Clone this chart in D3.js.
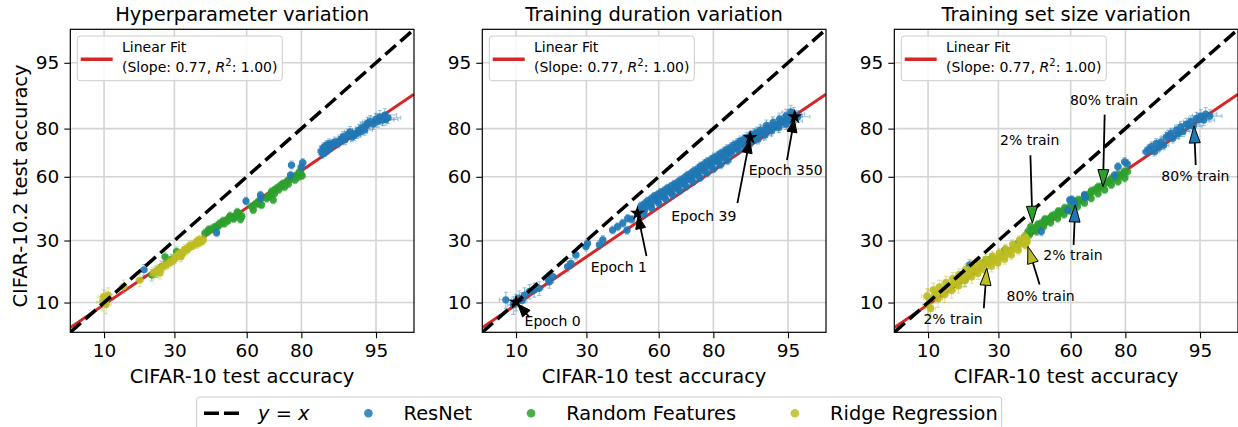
<!DOCTYPE html>
<html lang="en">
<head>
<meta charset="UTF-8">
<title>CIFAR-10 vs CIFAR-10.2 test accuracy</title>
<script src="https://d3js.org/d3.v7.min.js"></script>
<style>
  body { margin: 0; background: #fff; }
  text { font-family: "DejaVu Sans", sans-serif; fill: #000; }
</style>
</head>
<body>
<svg id="fig" width="1238" height="427"></svg>
<script>
// ---------- data (all accuracies in %) ----------
const tickLabels = [10, 30, 60, 80, 95];
const axisLimits = [5, 98];
const panelTitles = ["Hyperparameter variation", "Training duration variation", "Training set size variation"];

// linear fit in probit space
const fitSlope = 0.77, fitIntercept = -0.32, fitR2 = 1.00;
// half widths of the confidence intervals (percentage points)
const xErr = 1.0, yErr = 1.8;

// panel 1: hyperparameter variation
const hpResNet = [
  [19.7,18.9],[47.2,33.4],[59.7,48.3],[65.6,51.2],[65.8,49.5],[76.6,60.8],[76.9,65.4],[80.0,64.5],[80.4,66.5],
  [85.5,71.5],[86.0,73.0],[86.7,73.9],[87.0,71.9],[87.6,73.0],[88.5,75.2],[89.2,74.6],[89.8,76.2],[90.5,75.9],
  [91.0,78.0],[91.4,78.9],[92.0,77.5],[92.4,78.3],[92.8,79.5],[93.3,80.3],[93.8,81.0],[94.3,82.3],[94.7,81.5],
  [95.0,83.0],[95.4,83.8],[95.7,82.8],[95.9,84.3],[96.2,83.5],
  [86.3,71.0],[88.0,74.2],[89.5,75.5],[90.2,77.2],[91.7,77.0],[93.0,78.8],[93.6,79.5],[94.0,81.8],[95.2,82.3],
  [96.0,83.0],[85.8,70.3],[87.3,74.5]
];
const hpRandomFeatures = [
  [22.1,17.2],[23.7,18.3],[25.4,20.0],[26.6,23.5],[27.2,21.4],[29.0,22.6],[30.8,25.5],[42.2,33.2],[43.4,33.9],
  [45.0,35.0],[47.2,36.4],[48.5,37.5],[49.4,38.0],[50.5,37.6],[51.5,39.2],[52.5,40.2],[53.6,40.5],[54.5,39.8],
  [55.8,41.6],[56.5,42.5],[57.4,39.5],[58.0,41.0],[62.0,45.6],[62.7,44.0],[64.7,48.0],[65.0,47.0],[66.0,46.4],
  [68.6,50.4],[69.2,51.0],[70.5,48.8],[69.9,52.9],[70.8,53.5],[71.7,54.5],[72.5,53.8],[73.5,56.1],[74.5,55.0],
  [75.3,57.7],[76.0,58.5],[76.9,59.3],[78.0,58.5],[78.5,60.8],[79.8,61.6],[80.2,60.5],
  [43.8,34.8],[46.2,35.8],[48.0,36.5],[50.0,38.8],[52.0,38.8],[53.0,41.2],[55.0,40.8],[56.0,43.0],[71.0,52.0],
  [72.8,55.4],[74.0,56.8],[75.8,56.6],[77.5,60.0],[79.2,60.0],[79.5,62.5],[68.0,49.5],[63.5,46.8]
];
const hpRidge = [
  [9.7,10.1],[9.9,11.3],[10.2,10.9],[10.8,11.7],[10.4,9.6],[14.2,13.9],[18.5,15.7],[22.6,17.8],[24.3,18.9],
  [24.8,17.8],[26.0,20.0],[27.8,21.1],[29.6,22.3],[30.8,23.6],[31.5,24.2],[32.5,23.5],[33.4,25.5],[34.0,26.5],
  [35.4,26.8],[36.0,28.0],[37.4,28.2],[39.5,28.8],[40.0,30.5],[41.6,30.3],
  [23.5,18.4],[25.2,19.4],[27.0,20.6],[28.7,21.7],[30.2,22.9],[32.0,24.8],[33.0,24.5],[34.7,26.0],[36.7,27.5],
  [38.5,28.5],[40.8,29.5],[38.8,29.8]
];

// panel 2: training duration variation
const tdResNet = [
  [8.2,10.6],[9.5,9.5],[10.0,10.1],[10.6,10.9],[11.2,10.5],[11.7,11.7],[12.8,12.6],[13.9,13.0],[15.1,13.4],
  [17.5,16.0],[17.8,15.2],[18.8,16.7],[23.4,20.0],[24.5,21.1],[26.2,24.2],[29.8,27.5],[30.4,28.8],[35.0,28.2],
  [36.4,30.3],[40.4,34.6],[42.5,36.1],[44.7,37.7],[46.5,34.5],[46.8,40.0],[48.5,39.5],[51.0,42.4],
  [53.2,44.8],[52.5,46.0],[54.0,43.8],[56.0,47.2],[55.3,48.4],[56.8,46.1],[58.9,49.6],[58.2,50.8],[59.6,48.5],
  [61.6,51.3],[60.9,52.6],[62.3,50.2],[64.3,53.4],[63.6,54.6],[65.0,52.3],[67.0,55.3],[66.3,56.5],[67.7,54.2],
  [69.5,57.4],[68.8,58.6],[70.2,56.3],[72.0,59.6],[71.3,60.8],[72.7,58.5],[74.3,61.6],[73.6,62.8],[75.0,60.5],
  [76.6,63.8],[75.9,65.0],[77.2,62.7],[78.7,65.9],[78.1,67.0],[79.3,64.8],[80.8,67.7],[80.2,68.8],[81.4,66.7],
  [82.7,69.4],[82.1,70.5],[83.3,68.4],[84.4,71.2],[83.9,72.3],[84.9,70.2],[86.1,73.0],[85.6,74.0],[86.6,72.0],
  [87.6,74.6],[87.1,75.6],[88.0,73.6],[89.0,75.9],[88.6,76.9],[89.4,75.0],[90.3,77.1],[89.9,78.1],[90.7,76.2],
  [91.5,78.6],[91.1,79.5],[91.9,77.7],[92.5,80.1],[92.1,81.0],[92.9,79.2],[93.5,81.2],[93.1,82.0],[93.9,80.4],
  [94.4,82.3],[94.0,83.1],[94.8,81.5],[95.1,83.3],[94.8,84.1],[95.4,82.5],[95.6,84.6],[95.3,85.2],[96.0,83.8],
  [54.6,46.0],[57.5,48.4],[60.3,50.5],[63.0,52.4],[65.7,54.4],[68.3,56.4],[70.8,58.5],[73.2,60.6],[75.5,62.7],
  [77.7,64.9],[79.8,66.8],[81.8,68.6],[83.6,70.3],[85.3,72.1],[86.9,73.8],[88.3,75.3],[89.7,76.5],[90.9,77.9],
  [92.0,79.4],[93.0,80.7],[94.0,81.8],[94.8,82.8],[95.4,84.0],
  [54.0,47.1],[56.9,49.5],[59.7,51.6],[62.4,53.5],[65.1,55.5],[67.7,57.5],[70.2,59.6],[72.6,61.6],[74.9,63.7],
  [77.1,65.9],[79.3,67.8],[81.3,69.6],[83.1,71.3],[84.9,73.0],[86.5,74.6],[87.9,76.1],[89.3,77.3],[90.5,78.7],
  [53.8,41.9],[57.0,44.9],[60.0,47.2],[62.9,49.3],[65.7,51.3],[68.4,53.3],[70.9,55.4],[73.4,57.5],[75.8,59.6],
  [78.0,61.8],[80.1,63.7],[82.1,65.6],[84.0,67.4]
];
const epochLabels = ["Epoch 0", "Epoch 1", "Epoch 39", "Epoch 350"];
const epochX = [10.0, 51.0, 89.2, 95.7];
const epochY = [10.1, 42.4, 76.8, 83.8];

// panel 3: training set size variation
const tsResNet = [
  [20.2,20.6],[47.5,33.9],[58.8,44.0],[59.6,48.8],[60.5,49.0],[61.6,47.2],[65.6,51.3],[65.9,50.0],[76.6,60.8],
  [77.7,64.7],[79.8,66.9],[80.5,66.0],
  [85.7,71.2],[86.9,73.3],[87.6,71.2],[88.0,74.6],[89.0,75.2],[89.5,73.8],[90.0,76.9],[90.9,78.3],[91.2,76.5],
  [91.8,79.5],[92.5,80.6],[92.8,79.0],[93.3,81.5],[93.9,82.3],[94.2,80.8],[94.6,83.3],[95.1,84.0],[95.4,82.8],
  [95.6,84.6],[86.3,72.2],[88.6,73.0],[90.4,77.6],[92.1,78.2],[93.6,81.0],[94.9,83.0],[96.0,84.0]
];
const tsRandomFeatures = [
  [18.8,15.7],[25.1,21.7],[27.4,22.9],[32.4,26.1],[37.7,28.8],[40.4,31.7],
  [41.8,33.9],[44.7,35.4],[47.5,37.7],[50.4,39.5],[53.2,41.6],[56.0,43.2],[58.9,44.8],[61.6,46.9],[64.3,48.8],
  [67.0,51.3],[69.5,53.7],[72.0,55.3],[74.3,57.7],[76.6,59.3],[78.7,60.8],[80.6,62.4],
  [43.0,36.2],[46.0,37.2],[49.0,39.6],[52.0,41.2],[54.8,43.4],[57.5,45.0],[60.2,46.8],[63.0,48.9],[65.7,50.9],
  [68.3,53.3],[70.8,55.2],[73.2,57.2],[75.5,59.2],[77.7,61.0],[79.7,62.6],
  [42.5,32.6],[45.5,34.0],[48.5,36.2],[51.5,38.0],[54.5,40.0],[57.2,41.8],[60.0,43.5],[62.8,45.6],[65.6,47.4],
  [68.2,49.6],[70.8,52.0],[73.2,53.8],[75.5,56.2],[77.7,57.8],[79.8,59.4],
  [43.2,34.6],[46.1,36.5],[48.9,38.6],[51.8,40.5],[54.6,42.4],[57.4,44.0],[60.2,45.8],[62.9,47.8],[65.6,50.0],
  [68.2,52.5],[70.7,54.5],[73.1,56.5],[75.4,58.5],[77.6,60.0],[79.6,61.6]
];
const tsRidge = [
  [10.0,9.5],[10.2,10.9],[11.3,11.7],[12.8,12.6],[14.3,13.9],[16.0,14.8],[17.8,16.2],[19.7,17.8],[21.8,18.9],
  [23.9,20.0],[26.2,21.1],[28.6,22.3],[31.1,23.5],[33.7,25.1],[36.4,26.8],[39.1,28.8],[41.1,31.0],
  [9.8,11.5],[11.0,13.0],[12.3,13.8],[13.8,15.0],[15.5,16.2],[17.2,17.4],[19.0,19.0],[21.0,20.2],[23.2,21.4],
  [25.5,22.5],[27.8,23.8],[30.3,25.0],[32.8,26.6],[35.5,28.4],[38.3,30.3],[40.6,31.6],
  [10.5,8.8],[12.0,10.8],[13.5,11.8],[15.2,12.8],[17.0,14.0],[18.8,15.5],[20.8,16.6],[22.8,17.7],[25.0,18.8],
  [27.4,20.0],[29.8,21.2],[32.4,22.6],[35.0,24.2],[37.8,26.0],[40.8,28.0],[41.5,29.5],
  [12.0,12.2],[13.5,13.2],[15.1,14.3],[16.9,15.5],[18.7,17.0],[20.7,18.3],[22.8,19.4],[25.0,20.5],[27.4,21.7],
  [29.8,22.9],[32.4,24.3],[35.0,25.9],[37.7,27.8],[40.1,29.9]
];
const sizeLabels = ["2% train", "80% train", "80% train", "2% train", "80% train", "2% train"];
const sizeModel  = ["rf", "rf", "resnet", "resnet", "ridge", "ridge"];
const sizeX = [43.7, 72.6, 94.3, 61.9, 41.8, 25.8];
const sizeY = [37.7, 55.3, 80.9, 46.4, 27.5, 19.4];

const legendLabels = ["y = x", "ResNet", "Random Features", "Ridge Regression"];

// ---------- layout / style ----------
const colors = { resnet: "#1f77b4", rf: "#2ca02c", ridge: "#bcbd22", fit: "#d62728" };
const panelLeft = [70.3, 482.3, 894.3];
const axTop = 29.3, W = 343.7, H = 303;
// text placement for annotations, px relative to the annotated point: [text dx, dy, tail dx, dy]
const epochOffsets = [[36.6, 18.7, 13.3, 15], [-18.6, 53.4, 9, 42.7], [-46.3, 78.3, -12.7, 65.6], [-9, 53.3, -7.7, 43.3]];
const sizeOffsets = [[-2.7, -83.3, -2, -68], [1, -86.7, 1.7, -72], [1.4, 50.3, 1.7, 39],
                     [-2.4, 50, -1.7, 40], [12.7, 49.3, 11.7, 38], [-33.7, 51, -3, 40]];

function probit(p) {
  const a = [-3.969683028665376e+01, 2.209460984245205e+02, -2.759285104469687e+02, 1.383577518672690e+02, -3.066479806614716e+01, 2.506628277459239e+00];
  const b = [-5.447609879822406e+01, 1.615858368580409e+02, -1.556989798598866e+02, 6.680131188771972e+01, -1.328068155288572e+01];
  const c = [-7.784894002430293e-03, -3.223964580411365e-01, -2.400758277161838e+00, -2.549732539343734e+00, 4.374664141464968e+00, 2.938163982698783e+00];
  const d = [7.784695709041462e-03, 3.224671290700398e-01, 2.445134137142996e+00, 3.754408661907416e+00];
  const pl = 0.02425;
  let q, r;
  if (p < pl) {
    q = Math.sqrt(-2 * Math.log(p));
    return (((((c[0]*q+c[1])*q+c[2])*q+c[3])*q+c[4])*q+c[5]) / ((((d[0]*q+d[1])*q+d[2])*q+d[3])*q+1);
  }
  if (p > 1 - pl) {
    q = Math.sqrt(-2 * Math.log(1 - p));
    return -(((((c[0]*q+c[1])*q+c[2])*q+c[3])*q+c[4])*q+c[5]) / ((((d[0]*q+d[1])*q+d[2])*q+d[3])*q+1);
  }
  q = p - 0.5; r = q * q;
  return (((((a[0]*r+a[1])*r+a[2])*r+a[3])*r+a[4])*r+a[5])*q / (((((b[0]*r+b[1])*r+b[2])*r+b[3])*r+b[4])*r+1);
}
const pz = v => probit(v / 100);

const svg = d3.select("#fig");

function arrow(g, x0, y0, x1, y1, headLen, headW, fill) {
  const dx = x1 - x0, dy = y1 - y0, L = Math.hypot(dx, dy), ux = dx / L, uy = dy / L;
  const bx = x1 - ux * headLen, by = y1 - uy * headLen;
  if (L > headLen) {
    g.append("line").attr("x1", x0).attr("y1", y0).attr("x2", bx).attr("y2", by)
      .attr("stroke", "#000").attr("stroke-width", 1.8);
  }
  g.append("path")
    .attr("d", `M${x1},${y1}L${bx - uy * headW},${by + ux * headW}L${bx + uy * headW},${by - ux * headW}Z`)
    .attr("fill", fill).attr("stroke", "#000").attr("stroke-width", 1);
}

const panelSeries = [
  [["rf", hpRandomFeatures], ["resnet", hpResNet], ["ridge", hpRidge]],
  [["resnet", tdResNet]],
  [["rf", tsRandomFeatures], ["resnet", tsResNet], ["ridge", tsRidge]]
];

panelTitles.forEach((title, pi) => {
  const g = svg.append("g").attr("transform", `translate(${panelLeft[pi]},${axTop})`);
  const x = d3.scaleLinear().domain(axisLimits.map(pz)).range([0, W]);
  const y = d3.scaleLinear().domain(axisLimits.map(pz)).range([H, 0]);
  const px = v => x(pz(v)), py = v => y(pz(v));
  const tz = tickLabels.map(pz);

  // grid
  g.append("g").selectAll("line").data(tz).join("line")
    .attr("x1", d => x(d)).attr("x2", d => x(d)).attr("y1", 0).attr("y2", H)
    .attr("stroke", "#d4d4d4").attr("stroke-width", 1.6);
  g.append("g").selectAll("line").data(tz).join("line")
    .attr("y1", d => y(d)).attr("y2", d => y(d)).attr("x1", 0).attr("x2", W)
    .attr("stroke", "#d4d4d4").attr("stroke-width", 1.6);

  const plot = g.append("g");
  plot.append("clipPath").attr("id", "clip" + pi).append("rect").attr("width", W).attr("height", H);
  const inner = plot.append("g").attr("clip-path", `url(#clip${pi})`);

  // linear fit
  const zs = x.domain();
  inner.append("line")
    .attr("x1", x(zs[0])).attr("y1", y(fitSlope * zs[0] + fitIntercept))
    .attr("x2", x(zs[1])).attr("y2", y(fitSlope * zs[1] + fitIntercept))
    .attr("stroke", colors.fit).attr("stroke-width", 3);

  // points with error bars
  panelSeries[pi].forEach(([key, pts]) => {
    const s = inner.append("g");
    const c = colors[key];
    const eb = s.append("g").attr("stroke", c).attr("stroke-opacity", 0.45).attr("stroke-width", 1.1);
    pts.forEach(([vx, vy]) => {
      const cx = px(vx), cy = py(vy);
      const x0 = px(vx - xErr), x1 = px(vx + xErr), y0 = py(vy - yErr), y1 = py(vy + yErr);
      eb.append("path").attr("fill", "none").attr("d",
        `M${x0},${cy}H${x1}M${cx},${y0}V${y1}` +
        `M${x0},${cy - 2}V${cy + 2}M${x1},${cy - 2}V${cy + 2}` +
        `M${cx - 2},${y0}H${cx + 2}M${cx - 2},${y1}H${cx + 2}`);
    });
    s.append("g").selectAll("circle").data(pts).join("circle")
      .attr("cx", d => px(d[0])).attr("cy", d => py(d[1])).attr("r", 3.6)
      .attr("fill", c).attr("fill-opacity", 0.9);
  });

  // y = x
  inner.append("line")
    .attr("x1", 0).attr("y1", H).attr("x2", W).attr("y2", 0)
    .attr("stroke", "#000").attr("stroke-width", 3.5).attr("stroke-dasharray", "14,6");

  // annotations
  if (pi === 1) {
    epochLabels.forEach((lab, i) => {
      const tx = px(epochX[i]), ty = py(epochY[i]);
      const o = epochOffsets[i];
      const L = Math.hypot(o[2], o[3]);
      arrow(g, tx + o[2], ty + o[3], tx + o[2] / L * 2.5, ty + o[3] / L * 2.5, 13, 5, "#000");
      g.append("path").attr("transform", `translate(${tx},${ty})`)
        .attr("d", d3.symbol(d3.symbolStar, 70)()).attr("fill", "#000");
      g.append("text").attr("x", tx + o[0]).attr("y", ty + o[1] + 5)
        .attr("text-anchor", "middle").attr("font-size", 14).text(lab);
    });
  }
  if (pi === 2) {
    sizeLabels.forEach((lab, i) => {
      const tx = px(sizeX[i]), ty = py(sizeY[i]);
      const o = sizeOffsets[i];
      arrow(g, tx + o[2], ty + o[3], tx, ty, 17, 5.5, colors[sizeModel[i]]);
      g.append("text").attr("x", tx + o[0]).attr("y", ty + o[1] + 5)
        .attr("text-anchor", "middle").attr("font-size", 14).text(lab);
    });
  }

  // spines
  g.append("rect").attr("width", W).attr("height", H).attr("fill", "none")
    .attr("stroke", "#000").attr("stroke-width", 1.2);

  // axes
  const ax = g.append("g").attr("transform", `translate(0,${H})`)
    .call(d3.axisBottom(x).tickValues(tz).tickFormat((d, i) => tickLabels[i]).tickSize(6).tickPadding(6));
  const ay = g.append("g")
    .call(d3.axisLeft(y).tickValues(tz).tickFormat((d, i) => tickLabels[i]).tickSize(6).tickPadding(5));
  [ax, ay].forEach(a => {
    a.attr("font-size", null).attr("font-family", null);
    a.select(".domain").remove();
    a.selectAll("line").attr("stroke", "#000").attr("stroke-width", 1.1);
    a.selectAll("text").attr("font-size", 18.5).attr("fill", "#000");
  });

  // in-axes legend
  const lg = g.append("g").attr("transform", "translate(7,6.7)");
  lg.append("rect").attr("width", 205).attr("height", 44.7).attr("rx", 3)
    .attr("fill", "#fff").attr("fill-opacity", 0.85).attr("stroke", "#cccccc");
  lg.append("line").attr("x1", 3.4).attr("x2", 35.4).attr("y1", 23.3).attr("y2", 23.3)
    .attr("stroke", colors.fit).attr("stroke-width", 3.5);
  lg.append("text").attr("x", 44.7).attr("y", 15.7).attr("font-size", 14).text("Linear Fit");
  const t2 = lg.append("text").attr("x", 44.7).attr("y", 35.7).attr("font-size", 14);
  t2.append("tspan").text(`(Slope: ${fitSlope.toFixed(2)}, `);
  t2.append("tspan").attr("font-style", "italic").text("R");
  t2.append("tspan").attr("font-size", 10).attr("dy", -6).text("2");
  t2.append("tspan").attr("dy", 6).text(`: ${fitR2.toFixed(2)})`);

  // titles and labels
  g.append("text").attr("x", W / 2).attr("y", 21 - axTop).attr("text-anchor", "middle")
    .attr("font-size", 19.5).text(title);
  g.append("text").attr("x", W / 2).attr("y", 383 - axTop).attr("text-anchor", "middle")
    .attr("font-size", 19.5).text("CIFAR-10 test accuracy");
  if (pi === 0) {
    g.append("text").attr("transform", `translate(${27 - panelLeft[0]},${186 - axTop}) rotate(-90)`)
      .attr("text-anchor", "middle").attr("font-size", 19.5).text("CIFAR-10.2 test accuracy");
  }
});

// ---------- bottom legend ----------
const leg = svg.append("g").attr("transform", "translate(196.7,397)");
leg.append("rect").attr("width", 805).attr("height", 40).attr("rx", 3)
  .attr("fill", "#fff").attr("stroke", "#cccccc");
const legendKeys = [null, "resnet", "rf", "ridge"];
let cursor = 7.3;
legendLabels.forEach((lab, i) => {
  const handleW = 37.7, cy = 16.3;
  if (legendKeys[i] === null) {
    leg.append("line").attr("x1", cursor).attr("x2", cursor + handleW).attr("y1", cy).attr("y2", cy)
      .attr("stroke", "#000").attr("stroke-width", 3.5).attr("stroke-dasharray", "15,5");
  } else {
    leg.append("circle").attr("cx", cursor + handleW / 2).attr("cy", cy).attr("r", 4.3)
      .attr("fill", colors[legendKeys[i]]).attr("fill-opacity", 0.85);
  }
  const t = leg.append("text").attr("x", cursor + handleW + 16.3).attr("y", 23).attr("font-size", 19.4);
  if (i === 0) {
    t.append("tspan").attr("font-style", "italic").text("y");
    t.append("tspan").text(" = ");
    t.append("tspan").attr("font-style", "italic").text("x");
  } else {
    t.text(lab);
  }
  cursor += handleW + 16.3 + t.node().getComputedTextLength() + 40;
});
</script>
</body>
</html>
